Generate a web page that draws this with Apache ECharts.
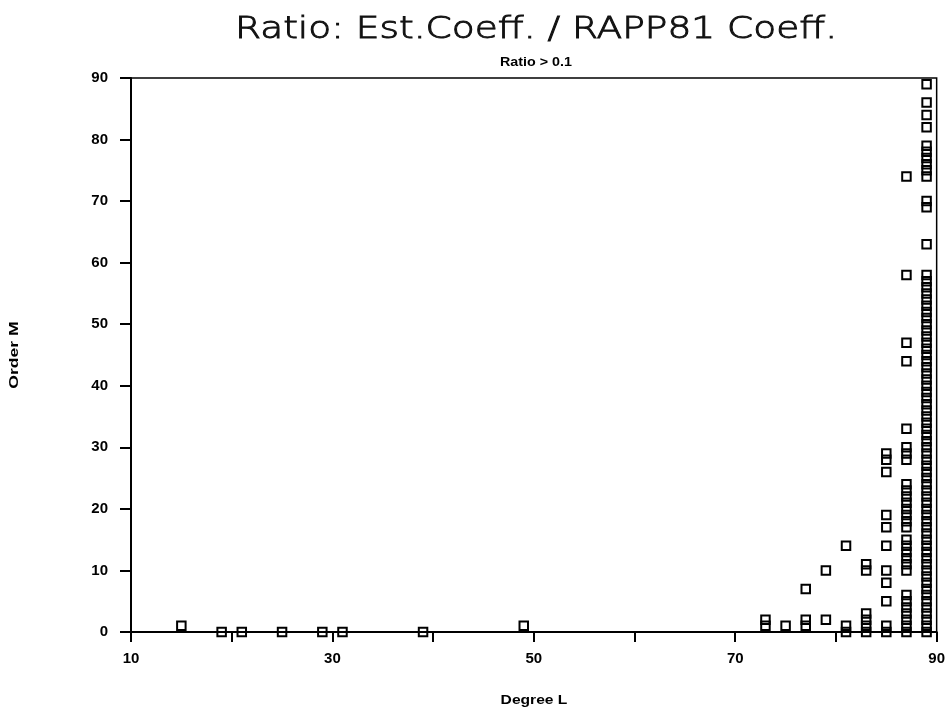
<!DOCTYPE html>
<html>
<head>
<meta charset="utf-8">
<title>Ratio: Est.Coeff. / RAPP81 Coeff.</title>
<script src="https://cdn.jsdelivr.net/npm/echarts/dist/echarts.min.js"></script>
<style>
  html, body { margin: 0; padding: 0; background: #fff; }
  #chart { width: 948px; height: 710px; }
</style>
</head>
<body>
<div id="chart"></div>
<script>
// Coefficients whose estimated/RAPP81 ratio exceeds 0.1, listed as order M per degree L
const degreesL = [15, 19, 21, 25, 29, 31, 39, 49, 73, 75, 77, 79, 81, 83, 85, 87, 89];
const ordersByDegree = [
  [1],
  [0],
  [0],
  [0],
  [0],
  [0],
  [0],
  [1],
  [1, 2],
  [1],
  [1, 2, 7],
  [2, 10],
  [0, 1, 14],
  [0, 1, 2, 3, 10, 11],
  [0, 1, 5, 8, 10, 14, 17, 19, 26, 28, 29],
  [0, 1, 2, 3, 4, 5, 6, 10, 11, 12, 13, 14, 15, 17, 18, 19, 20, 21, 22, 23, 24,
   28, 29, 30, 33, 44, 47, 58, 74],
  [0, 1, 2, 3, 4, 5, 6, 7, 8, 9, 10, 11, 12, 13, 14, 15, 16, 17, 18, 19,
   20, 21, 22, 23, 24, 25, 26, 27, 28, 29, 30, 31, 32, 33, 34, 35, 36, 37, 38, 39,
   40, 41, 42, 43, 44, 45, 46, 47, 48, 49, 50, 51, 52, 53, 54, 55, 56, 57, 58,
   63, 69, 70, 74, 75, 76, 77, 78, 79, 82, 84, 86, 89]
];
const xTicks = [10, 20, 30, 40, 50, 60, 70, 80, 90];
const yTicks = [0, 10, 20, 30, 40, 50, 60, 70, 80, 90];

const titleText = 'Ratio: Est.Coeff. / RAPP81 Coeff.';
const subtitleText = 'Ratio > 0.1';
const xName = 'Degree L';
const yName = 'Order M';

const points = [];
degreesL.forEach((l, i) => ordersByDegree[i].forEach(m => points.push([l, m])));

const tickFont = { fontFamily: 'Liberation Sans', fontWeight: 'bold', fontSize: 15, color: '#000' };

const chart = echarts.init(document.getElementById('chart'), null, { renderer: 'canvas' });
chart.setOption({
  backgroundColor: '#fff',
  animation: false,
  // Wide, thin plotter-style headings and spaced axis names
  graphic: [
    {
      type: 'text', x: 536, y: 30, scaleX: 1.25, silent: true,
      style: {
        text: titleText, font: '300 30px "DejaVu Sans"', fill: '#111',
        stroke: '#111', lineWidth: 0.9,
        align: 'center', verticalAlign: 'middle'
      }
    },
    {
      type: 'text', x: 536, y: 62, scaleX: 1.1, silent: true,
      style: {
        text: subtitleText, font: 'bold 13px "Liberation Sans"', fill: '#000',
        align: 'center', verticalAlign: 'middle'
      }
    },
    {
      type: 'text', x: 534, y: 700, scaleX: 1.2, silent: true,
      style: {
        text: xName, font: 'bold 13px "Liberation Sans"', fill: '#000',
        align: 'center', verticalAlign: 'middle'
      }
    },
    {
      type: 'text', x: 14, y: 355, rotation: Math.PI / 2, silent: true,
      scaleX: 1.35,
      style: {
        text: yName, font: 'bold 13px "Liberation Sans"', fill: '#000',
        align: 'center', verticalAlign: 'middle'
      }
    }
  ],
  grid: {
    left: 131, right: 11, top: 78, bottom: 78,
    show: true, borderColor: '#000', borderWidth: 1.5, backgroundColor: 'transparent'
  },
  xAxis: {
    type: 'value',
    min: xTicks[0], max: xTicks[xTicks.length - 1], interval: 10,
    axisLine: { onZero: false, lineStyle: { color: '#000', width: 2 } },
    axisTick: { show: true, inside: false, length: 10, lineStyle: { color: '#000', width: 2 } },
    axisLabel: Object.assign({
      margin: 19,
      formatter: v => (xTicks.indexOf(v) % 2 === 0 ? String(v) : '')
    }, tickFont),
    splitLine: { show: false }
  },
  yAxis: {
    type: 'value',
    min: yTicks[0], max: yTicks[yTicks.length - 1], interval: 10,
    axisLine: { onZero: false, lineStyle: { color: '#000', width: 2 } },
    axisTick: { show: true, inside: false, length: 11, lineStyle: { color: '#000', width: 2 } },
    axisLabel: Object.assign({ margin: 23 }, tickFont),
    splitLine: { show: false }
  },
  series: [{
    type: 'scatter',
    data: points,
    symbol: 'rect',
    symbolSize: 8.5,
    clip: false,
    itemStyle: { color: 'rgba(0,0,0,0)', borderColor: '#000', borderWidth: 2, opacity: 1 }
  }]
});
</script>
</body>
</html>
